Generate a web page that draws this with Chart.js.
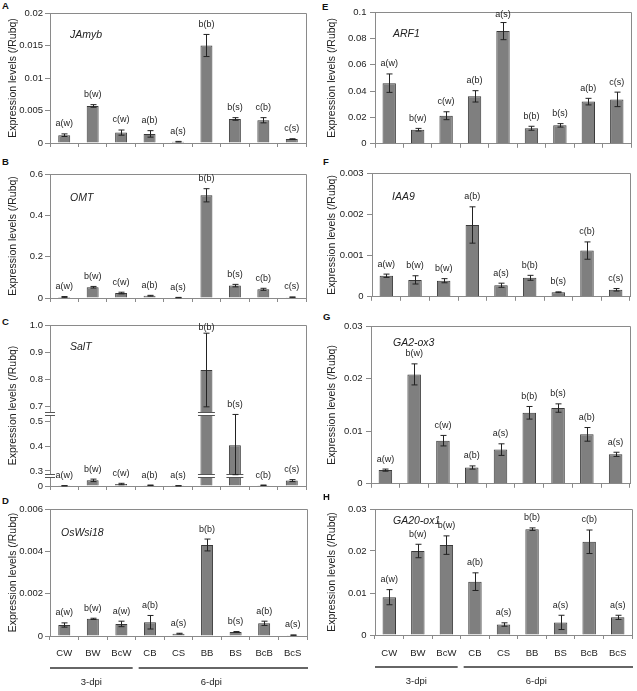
<!DOCTYPE html>
<html>
<head>
<meta charset="utf-8">
<script src="https://cdn.jsdelivr.net/npm/chart.js@4.4.1/dist/chart.umd.min.js"></script>
<style>
html,body{margin:0;padding:0;background:#fff;}
body{width:637px;height:691px;position:relative;overflow:hidden;}
canvas{position:absolute;}
.plabel{position:absolute;font:bold 9.5px "Liberation Sans",Arial,sans-serif;line-height:10px;color:#111;}
</style>
</head>
<body>
<script>
const FONT = '"Liberation Sans", Arial, sans-serif';

// ---------- data ----------
const categories = ['CW','BW','BcW','CB','CS','BB','BS','BcB','BcS'];
const groupLabels = ['3-dpi','6-dpi'];
const groupSizes = [3, 6];
const yTitle = 'Expression levels (/Rubq)';

const jamybValues  = [0.0012, 0.0057, 0.0016, 0.0014, 0.0002, 0.0150, 0.0037, 0.0035, 0.0006];
const jamybErrors  = [0.0002, 0.0002, 0.0004, 0.0005, 0.00005, 0.0017, 0.0002, 0.0004, 0.00005];
const jamybLetters = ['a(w)','b(w)','c(w)','a(b)','a(s)','b(b)','b(s)','c(b)','c(s)'];
const jamybTicks = [0, 0.005, 0.01, 0.015, 0.02];
const jamybTickLabels = ['0','0.005','0.01','0.015','0.02'];

const omtValues  = [0.005, 0.052, 0.024, 0.011, 0.002, 0.497, 0.060, 0.042, 0.004];
const omtErrors  = [0.002, 0.004, 0.004, 0.002, 0.001, 0.032, 0.006, 0.005, 0.001];
const omtLetters = ['a(w)','b(w)','c(w)','a(b)','a(s)','b(b)','b(s)','c(b)','c(s)'];
const omtTicks = [0, 0.2, 0.4, 0.6];
const omtTickLabels = ['0','0.2','0.4','0.6'];

const saltValues  = [0.001, 0.023, 0.008, 0.003, 0.001, 0.835, 0.405, 0.003, 0.022];
const saltErrors  = [0.0005, 0.005, 0.003, 0.001, 0.0005, 0.135, 0.125, 0.001, 0.004];
const saltLetters = ['a(w)','b(w)','c(w)','a(b)','a(s)','b(b)','b(s)','c(b)','c(s)'];
const saltTicks = [0, 0.3, 0.4, 0.5, 0.7, 0.8, 0.9, 1.0];
const saltTickLabels = ['0','0.3','0.4','0.5','0.7','0.8','0.9','1.0'];
// broken axis: [value, display] knots and break values
const saltAxisKnots = [[0,0],[0.037,27.2],[0.285,34],[0.53,214.2],[0.675,216.6],[1.0,482]];
const saltBreaks = [0.16, 0.6];

const wsiValues  = [0.00052, 0.00081, 0.00057, 0.00065, 0.00011, 0.0043, 0.00019, 0.0006, 0.00004];
const wsiErrors  = [0.0001, 0.00003, 0.00013, 0.00032, 0.00002, 0.00028, 0.00002, 0.0001, 0.00001];
const wsiLetters = ['a(w)','b(w)','a(w)','a(b)','a(s)','b(b)','b(s)','a(b)','a(s)'];
const wsiTicks = [0, 0.002, 0.004, 0.006];
const wsiTickLabels = ['0','0.002','0.004','0.006'];

const arfValues  = [0.046, 0.0107, 0.0213, 0.036, 0.0855, 0.0118, 0.014, 0.032, 0.0337];
const arfErrors  = [0.007, 0.001, 0.003, 0.0043, 0.0065, 0.0015, 0.0013, 0.0025, 0.0055];
const arfLetters = ['a(w)','b(w)','c(w)','a(b)','a(s)','b(b)','b(s)','a(b)','c(s)'];
const arfTicks = [0, 0.02, 0.04, 0.06, 0.08, 0.1];
const arfTickLabels = ['0','0.02','0.04','0.06','0.08','0.1'];

const iaaValues  = [0.00051, 0.00041, 0.00039, 0.00174, 0.00028, 0.00046, 0.00011, 0.00112, 0.00017];
const iaaErrors  = [0.00004, 0.0001, 0.00005, 0.00044, 0.00005, 0.00006, 0.00001, 0.00021, 0.00003];
const iaaLetters = ['a(w)','b(w)','b(w)','a(b)','a(s)','b(b)','b(s)','c(b)','c(s)'];
const iaaTicks = [0, 0.001, 0.002, 0.003];
const iaaTickLabels = ['0','0.001','0.002','0.003'];

const ga2Values  = [0.0026, 0.0208, 0.0082, 0.0031, 0.0065, 0.0135, 0.0144, 0.0094, 0.0056];
const ga2Errors  = [0.0002, 0.002, 0.001, 0.0003, 0.0011, 0.0012, 0.0008, 0.0013, 0.0004];
const ga2Letters = ['a(w)','b(w)','c(w)','a(b)','a(s)','b(b)','b(s)','a(b)','a(s)'];
const ga2Ticks = [0, 0.01, 0.02, 0.03];
const ga2TickLabels = ['0','0.01','0.02','0.03'];

const ga20Values  = [0.009, 0.020, 0.0214, 0.0127, 0.0025, 0.0252, 0.003, 0.0222, 0.0042];
const ga20Errors  = [0.0018, 0.0016, 0.0022, 0.0021, 0.0004, 0.0003, 0.0017, 0.0028, 0.0005];
const ga20Letters = ['a(w)','b(w)','b(w)','a(b)','a(s)','b(b)','a(s)','c(b)','a(s)'];
const ga20Ticks = [0, 0.01, 0.02, 0.03];
const ga20TickLabels = ['0','0.01','0.02','0.03'];

// ---------- helpers ----------
function piecewise(points) {
  return v => {
    if (v <= points[0][0]) return points[0][1];
    for (let i = 1; i < points.length; i++) {
      const [x0, y0] = points[i-1], [x1, y1] = points[i];
      if (v <= x1) return y0 + (v - x0) * (y1 - y0) / (x1 - x0);
    }
    const [xa, ya] = points[points.length-2], [xb, yb] = points[points.length-1];
    return ya + (v - xa) * (yb - ya) / (xb - xa);
  };
}
const identity = v => v;

const panels = [
  {id:'A', gene:'JAmyb',   values:jamybValues, errors:jamybErrors, letters:jamybLetters, ticks:jamybTicks, tickLabels:jamybTickLabels},
  {id:'B', gene:'OMT',     values:omtValues,   errors:omtErrors,   letters:omtLetters,   ticks:omtTicks,   tickLabels:omtTickLabels},
  {id:'C', gene:'SalT',    values:saltValues,  errors:saltErrors,  letters:saltLetters,  ticks:saltTicks,  tickLabels:saltTickLabels, map:piecewise(saltAxisKnots), breaks:saltBreaks},
  {id:'D', gene:'OsWsi18', values:wsiValues,   errors:wsiErrors,   letters:wsiLetters,   ticks:wsiTicks,   tickLabels:wsiTickLabels},
  {id:'E', gene:'ARF1',    values:arfValues,   errors:arfErrors,   letters:arfLetters,   ticks:arfTicks,   tickLabels:arfTickLabels},
  {id:'F', gene:'IAA9',    values:iaaValues,   errors:iaaErrors,   letters:iaaLetters,   ticks:iaaTicks,   tickLabels:iaaTickLabels},
  {id:'G', gene:'GA2-ox3', values:ga2Values,   errors:ga2Errors,   letters:ga2Letters,   ticks:ga2Ticks,   tickLabels:ga2TickLabels},
  {id:'H', gene:'GA20-ox1',values:ga20Values,  errors:ga20Errors,  letters:ga20Letters,  ticks:ga20Ticks,  tickLabels:ga20TickLabels},
];

// ---------- layout (page pixels) ----------
const layout = {
  A:{col:0, plotL:50,  plotR:306, plotT:13,  plotB:143, gene:[20,22], letter:[2,1]},
  B:{col:0, plotL:50,  plotR:306, plotT:174, plotB:298, gene:[20,24], letter:[2,157]},
  C:{col:0, plotL:50,  plotR:306, plotT:325, plotB:486, gene:[20,22], letter:[2,317]},
  D:{col:0, plotL:50,  plotR:307, plotT:509, plotB:636, gene:[11,24], letter:[2,496], bottom:true, tickPad:8},
  E:{col:1, plotL:375, plotR:631, plotT:12,  plotB:145, gene:[18,22], letter:[322,2]},
  F:{col:1, plotL:372, plotR:630, plotT:173, plotB:298, gene:[20,24], letter:[323,157]},
  G:{col:1, plotL:371, plotR:630, plotT:326, plotB:485, gene:[22,17], letter:[323,312]},
  H:{col:1, plotL:375, plotR:632, plotT:509, plotB:635, gene:[18,12], letter:[323,492], bottom:true, tickPad:9},
};
const groupLabelShift = [0, -12];

const panelById = {};

const extraPlugin = {
  id: 'extra',
  beforeDatasetsDraw(chart) {
    const ca = chart.chartArea, ctx = chart.ctx;
    ctx.save();
    ctx.strokeStyle = '#8a8a8a'; ctx.lineWidth = 1;
    ctx.beginPath();
    ctx.moveTo(ca.left, ca.top + 0.5); ctx.lineTo(ca.right + 0.5, ca.top + 0.5);
    ctx.lineTo(ca.right + 0.5, ca.bottom);
    ctx.stroke();
    ctx.restore();
  },
  afterDatasetsDraw(chart) {
    const p = panelById[chart.canvas.id];
    const map = p.map || identity;
    const ctx = chart.ctx, ys = chart.scales.y, ca = chart.chartArea;
    const els = chart.getDatasetMeta(0).data;
    ctx.save();
    if (p.breaks) {
      p.breaks.forEach(b => {
        const yb = Math.round(ys.getPixelForValue(map(b)));
        const marks = [[ca.left - 5, ca.left + 5]];
        els.forEach((el, i) => {
          if (p.values[i] > b) marks.push([el.x - el.width / 2 - 2.5, el.x + el.width / 2 + 2.5]);
        });
        marks.forEach(([x0, x1]) => {
          ctx.fillStyle = '#fff';
          ctx.fillRect(x0, yb - 1.5, x1 - x0, 3);
          ctx.strokeStyle = '#555'; ctx.lineWidth = 1;
          ctx.beginPath();
          ctx.moveTo(x0, yb - 1.5); ctx.lineTo(x1, yb - 1.5);
          ctx.moveTo(x0, yb + 1.5); ctx.lineTo(x1, yb + 1.5);
          ctx.stroke();
        });
      });
    }
    // error bars and letters
    ctx.strokeStyle = '#222'; ctx.lineWidth = 1;
    ctx.fillStyle = '#222';
    ctx.font = '9px ' + FONT;
    ctx.textAlign = 'center'; ctx.textBaseline = 'middle';
    els.forEach((el, i) => {
      const v = p.values[i], e = p.errors[i];
      const yt = ys.getPixelForValue(map(v + e));
      const yl = ys.getPixelForValue(map(Math.max(0, v - e)));
      const x = Math.round(el.x) + 0.5;
      ctx.beginPath();
      ctx.moveTo(x, yt); ctx.lineTo(x, yl);
      ctx.moveTo(x - 3, yt); ctx.lineTo(x + 3, yt);
      ctx.moveTo(x - 3, yl); ctx.lineTo(x + 3, yl);
      ctx.stroke();
      const ty = Math.max(yt - 10, ca.top + 3);
      ctx.fillText(p.letters[i], el.x, ty);
    });
    ctx.restore();
  },
  afterDraw(chart) {
    const p = panelById[chart.canvas.id];
    const L = layout[p.id];
    const ctx = chart.ctx, ca = chart.chartArea;
    ctx.save();
    ctx.fillStyle = '#222';
    ctx.font = 'italic 10.5px ' + FONT;
    ctx.textAlign = 'left'; ctx.textBaseline = 'middle';
    ctx.fillText(p.gene, ca.left + L.gene[0], ca.top + L.gene[1]);
    if (L.bottom) {
      const cw = (ca.right - ca.left) / categories.length;
      let start = 0;
      ctx.strokeStyle = '#333'; ctx.lineWidth = 1.5;
      ctx.font = '9.5px ' + FONT;
      ctx.textAlign = 'center';
      groupSizes.forEach((n, gi) => {
        const end = start + n;
        const x0 = start === 0 ? ca.left : ca.left + start * cw + 3;
        const x1 = end === categories.length ? ca.right + 1 : ca.left + end * cw - 3;
        const ly = ca.bottom + 32;
        ctx.beginPath(); ctx.moveTo(x0, ly); ctx.lineTo(x1, ly); ctx.stroke();
        ctx.fillText(groupLabels[gi], (x0 + x1) / 2 + groupLabelShift[gi], ca.bottom + 46);
        start = end;
      });
    }
    ctx.restore();
  }
};

panels.forEach(p => {
  const L = layout[p.id];
  panelById['c' + p.id] = p;
  const map = p.map || identity;
  const left = L.col ? 318 : 0;
  const width = L.col ? 319 : 318;
  const top = L.plotT - 10;
  const height = L.bottom ? 691 - top : L.plotB + 8 - top;
  const xH = L.bottom ? 691 - L.plotB : 8;
  const yW = L.plotL - left;

  const lab = document.createElement('div');
  lab.className = 'plabel';
  lab.style.left = L.letter[0] + 'px'; lab.style.top = L.letter[1] + 'px';
  lab.textContent = p.id;
  document.body.appendChild(lab);

  const cv = document.createElement('canvas');
  cv.id = 'c' + p.id;
  cv.width = width; cv.height = height;
  cv.style.left = left + 'px'; cv.style.top = top + 'px';
  cv.style.width = width + 'px'; cv.style.height = height + 'px';
  document.body.appendChild(cv);

  const dispTicks = p.ticks.map(map);
  new Chart(cv, {
    type: 'bar',
    data: {
      labels: categories,
      datasets: [{
        data: p.values.map(map),
        backgroundColor: '#7f7f7f',
        borderColor: '#3a3a3a',
        borderWidth: 1,
        barPercentage: L.col ? 0.47 : 0.42,
        categoryPercentage: 1
      }]
    },
    options: {
      responsive: false,
      animation: false,
      devicePixelRatio: 1,
      layout: {autoPadding: false, padding: {top: 10, right: left + width - L.plotR, left: 0, bottom: 0}},
      plugins: {legend: {display: false}, tooltip: {enabled: false}},
      scales: {
        x: {
          afterFit: s => { s.height = xH; },
          grid: {drawOnChartArea: false, drawTicks: true, tickLength: 4, color: '#8a8a8a'},
          border: {display: true, color: '#8a8a8a'},
          ticks: {display: !!L.bottom, autoSkip: false, maxRotation: 0, padding: L.tickPad || 3,
                  color: '#222', font: {family: FONT, size: 9.5}}
        },
        y: {
          min: 0, max: dispTicks[dispTicks.length - 1],
          afterBuildTicks: s => { s.ticks = dispTicks.map(v => ({value: v})); },
          afterFit: s => { s.width = yW; },
          grid: {drawOnChartArea: false, drawTicks: true, tickLength: 5, color: '#8a8a8a'},
          border: {display: true, color: '#8a8a8a'},
          ticks: {autoSkip: false, padding: L.col ? 3.5 : 2, color: '#222',
                  font: {family: FONT, size: 9.5}, callback: (v, i) => p.tickLabels[i]},
          title: {display: true, text: yTitle, color: '#222',
                  font: {family: FONT, size: 10.5, lineHeight: 1.2},
                  padding: {top: L.col ? 7.7 : 6.7, bottom: 0}}
        }
      }
    },
    plugins: [extraPlugin]
  });
});
</script>
</body>
</html>
